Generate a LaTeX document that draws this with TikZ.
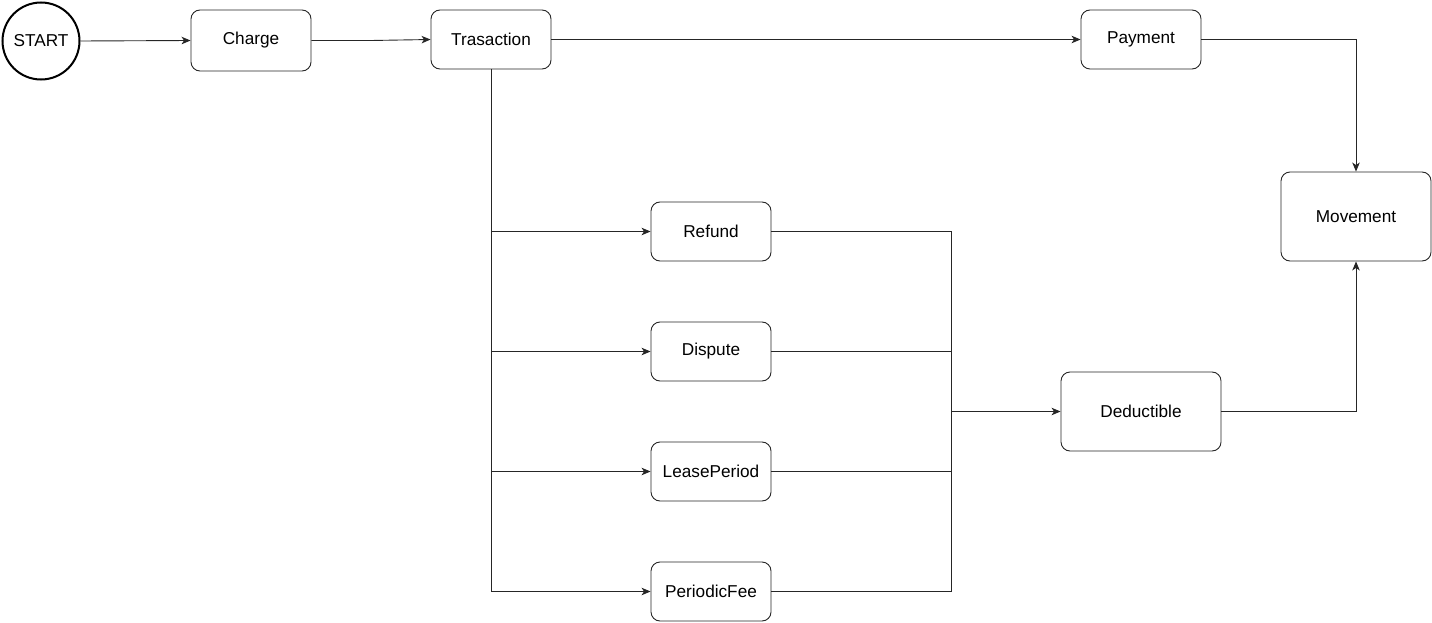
\documentclass[tikz,border=0pt]{standalone}
\usepackage{fontspec}
\setmainfont{Liberation Sans}
\usetikzlibrary{arrows.meta}
\begin{document}
\begin{tikzpicture}[x=1pt,y=-1pt,
  box/.style={draw=black!85, line width=0.9pt, rounded corners=9pt, inner sep=0pt, font=\fontsize{17.2}{20}\selectfont},
  conn/.style={draw=black!85, line width=0.9pt},
  arr/.style={conn, -{Stealth[length=9pt,width=7.5pt,inset=2.5pt]}}]
\useasboundingbox (0,0) rectangle (1432,623);
\node[draw=black, line width=2pt, circle, minimum size=77pt, inner sep=0pt, font=\fontsize{17.2}{20}\selectfont] (start) at (41,41) {START};
\node[box, minimum width=120pt, minimum height=61pt] (charge) at (251,40.5) {Charge};
\node[box, minimum width=120pt, minimum height=59pt] (tras) at (491,39.5) {Trasaction};
\node[box, minimum width=120pt, minimum height=59pt] (pay) at (1141,39.5) {Payment};
\node[box, minimum width=150pt, minimum height=89pt] (mov) at (1356,216.5) {Movement};
\node[box, minimum width=120pt, minimum height=59pt] (ref) at (711,231.5) {Refund};
\node[box, minimum width=120pt, minimum height=59pt] (dis) at (711,351.5) {Dispute};
\node[box, minimum width=120pt, minimum height=59pt] (lease) at (711,471.5) {LeasePeriod};
\node[box, minimum width=120pt, minimum height=59pt] (fee) at (711,591.5) {PeriodicFee};
\node[box, minimum width=160pt, minimum height=79pt] (ded) at (1141,411.5) {Deductible};
\coordinate (tb) at (491,591.5);
\coordinate (jt) at (951,231.5);
\coordinate (jb) at (951,591.5);
\coordinate (jm) at (951,411.5);
\coordinate (pr) at (1356,39.5);
\coordinate (dr) at (1356,411.5);
\draw[arr] (start.east) -- (charge.west);
\draw[arr] (charge.east) -- (371,40.5) -- (tras.west);
\draw[arr] (tras.east) -- (pay.west);
\draw[arr] (pay.east) -- (pr) -- (mov.north);
\draw[conn] (tras.south) -- (tb);
\draw[arr] (491,231.5) -- (ref.west);
\draw[arr] (491,351.5) -- (dis.west);
\draw[arr] (491,471.5) -- (lease.west);
\draw[arr] (tb) -- (fee.west);
\draw[conn] (ref.east) -- (jt) -- (jb);
\draw[conn] (dis.east) -- (951,351.5);
\draw[conn] (lease.east) -- (951,471.5);
\draw[conn] (fee.east) -- (jb);
\draw[arr] (jm) -- (ded.west);
\draw[arr] (ded.east) -- (dr) -- (mov.south);
\end{tikzpicture}
\end{document}
